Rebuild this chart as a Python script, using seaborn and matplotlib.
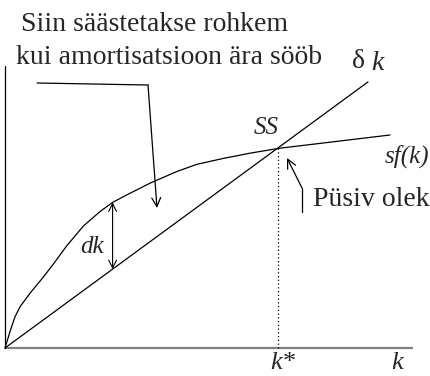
import matplotlib
matplotlib.use("Agg")
import matplotlib.pyplot as plt
import seaborn as sns
import pandas as pd
import numpy as np

sns.set_style("white")
plt.rcParams["font.family"] = ["Liberation Serif", "DejaVu Serif"]

# Savings curve sf(k) (concave production times savings rate)
k_vals = [0, 0.125, 0.25, 0.375, 0.625, 0.96, 1.21, 1.54, 1.96, 2.375, 2.69,
          3.04, 3.625, 4.29, 4.79, 5.46, 6.125, 6.83, 9.625]
sf_vals = [0, 0.41, 0.78, 1.03, 1.37, 1.775, 2.1, 2.55, 3.05, 3.41, 3.64,
           3.825, 4.12, 4.41, 4.59, 4.74, 4.87, 4.99, 5.325]

# Depreciation line δk
delta = 0.733
k_line = [0, 9.075]

# Steady state and illustrated gap
k_star = 6.83
k_gap = 2.69

sf_df = pd.DataFrame({"k": k_vals, "sf": sf_vals})
dep_df = pd.DataFrame({"k": k_line, "dk": [delta * v for v in k_line]})

fig = plt.figure(figsize=(4.31, 3.76), dpi=100)
ax = fig.add_axes([0, 0, 1, 1])
ax.set_xlim(-0.125, 10.65)
ax.set_ylim(-0.7, 8.7)
ax.axis("off")

# axes
ax.plot([0, 10.2], [0, 0], color="#7f7f7f", lw=1.6, solid_capstyle="butt")
ax.plot([0, 0], [0, 7.05], color="black", lw=0.9)

sns.lineplot(data=sf_df, x="k", y="sf", ax=ax, color="black", lw=0.9,
             sort=False, estimator=None)
sns.lineplot(data=dep_df, x="k", y="dk", ax=ax, color="black", lw=0.9,
             estimator=None)

# steady-state marker line
sf_star = float(np.interp(k_star, k_vals, sf_vals))
ax.plot([k_star, k_star], [0, sf_star], color="black", lw=0.9, ls=(0, (1, 2)))

# gap arrow between the two curves
sf_gap = float(np.interp(k_gap, k_vals, sf_vals))
ax.annotate("", xy=(k_gap, sf_gap), xytext=(k_gap, delta * k_gap),
            arrowprops=dict(arrowstyle="<->", lw=0.8, color="black",
                            shrinkA=0, shrinkB=0, mutation_scale=14))
ax.text(2.175, 2.52, "dk", fontsize=18, style="italic", ha="center", va="center")

# pointer from the upper caption
ax.plot([0.8, 3.575], [6.625, 6.575], color="black", lw=0.9)
ax.annotate("", xy=(3.8, 3.5), xytext=(3.575, 6.575),
            arrowprops=dict(arrowstyle="->", lw=0.9, color="black",
                            shrinkA=0, shrinkB=0, mutation_scale=16))

# pointer to the steady state
ax.plot([7.425, 7.425], [3.4, 4.0], color="black", lw=0.9)
ax.annotate("", xy=(7.05, 4.75), xytext=(7.425, 4.0),
            arrowprops=dict(arrowstyle="->", lw=0.9, color="black",
                            shrinkA=0, shrinkB=0, mutation_scale=16))

fs = 20
ax.text(3.74, 8.075, "Siin säästetakse rohkem", fontsize=fs, ha="center", va="center")
ax.text(4.09, 7.25, "kui amortisatsioon ära sööb", fontsize=fs, ha="center", va="center")
ax.text(8.85, 7.15, "δ", fontsize=fs, ha="center", va="center")
ax.text(9.3, 7.12, "k", fontsize=fs, style="italic", ha="center", va="center")
ax.text(6.525, 5.5, "SS", fontsize=18, style="italic", ha="center", va="center")
ax.text(10.05, 4.8, "sf(k)", fontsize=18, style="italic", ha="center", va="center")
ax.text(9.15, 3.7, "Püsiv olek", fontsize=fs, ha="center", va="center")
ax.text(6.95, -0.375, "k*", fontsize=19, style="italic", ha="center", va="center")
ax.text(9.8, -0.375, "k", fontsize=19, style="italic", ha="center", va="center")

fig.savefig("out.png", dpi=100)
